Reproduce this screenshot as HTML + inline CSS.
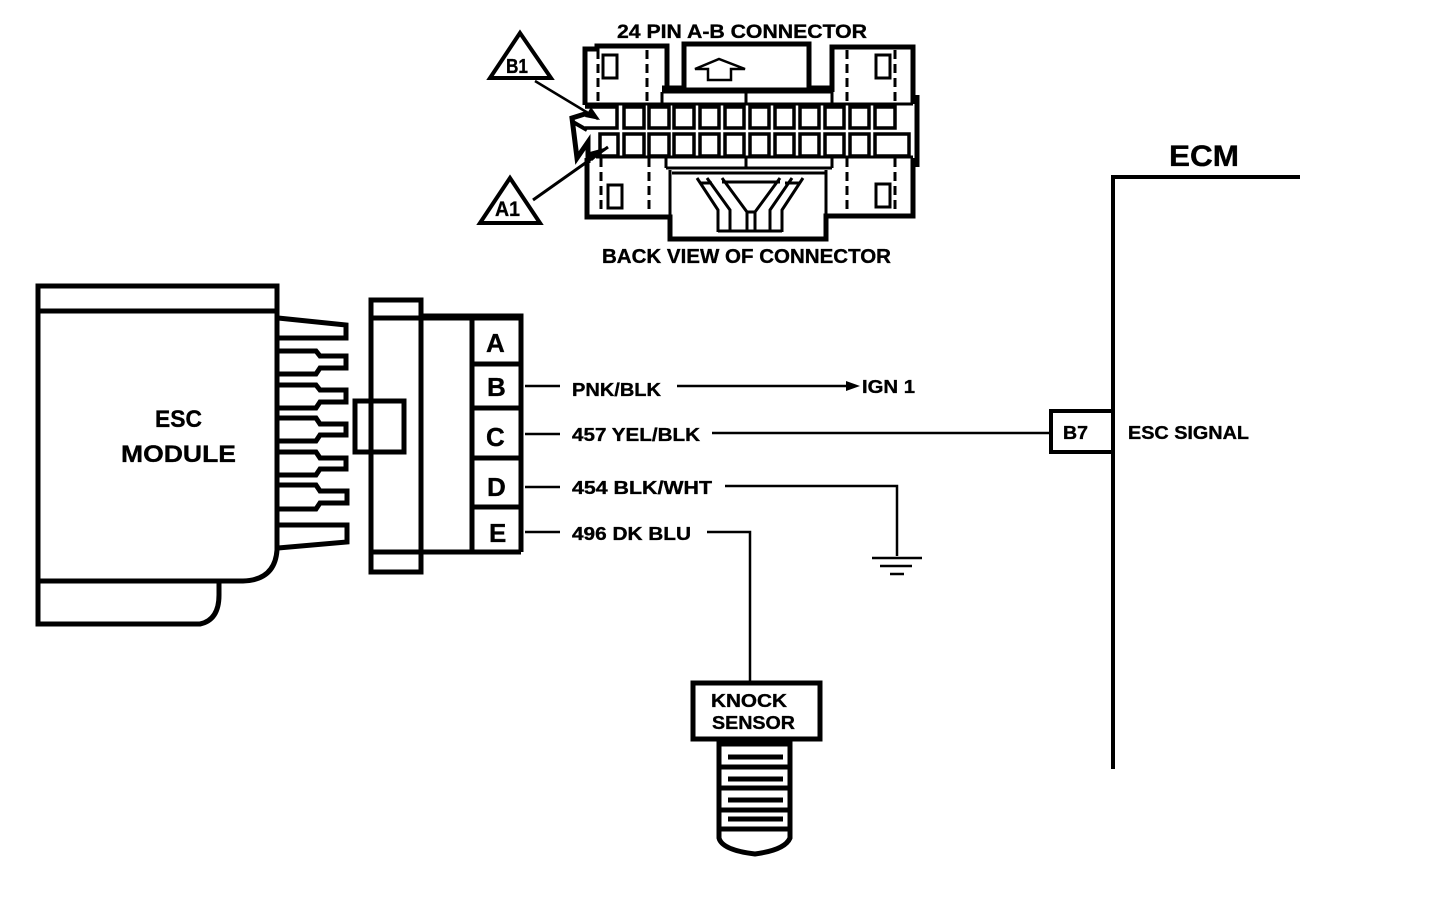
<!DOCTYPE html>
<html><head><meta charset="utf-8"><style>
html,body{margin:0;padding:0;background:#fff;width:1440px;height:900px;overflow:hidden}
svg{display:block}
text{font-family:"Liberation Sans",sans-serif;font-weight:700;fill:#000;stroke:#000;stroke-width:.35}
</style></head><body>
<svg width="1440" height="900" viewBox="0 0 1440 900" xmlns="http://www.w3.org/2000/svg">
<g fill="none" stroke="#000" stroke-width="4">
<!-- ESC module -->
<path d="M38 286H277V550Q275 580 243 581H38Z" stroke-width="5"/>
<path d="M38 311H277" stroke-width="5"/>
<path d="M38 581V624H200Q219 620 219 595V581" stroke-width="5"/>
<!-- pins -->
<path d="M278 318L346 325V338H278" stroke-width="5"/>
<path d="M278 351H316L320 356H346V368H320L316 374H278" stroke-width="5"/>
<path d="M278 385H316L320 390H346V402H320L316 408H278" stroke-width="5"/>
<path d="M278 418H316L320 424H346V435H320L316 441H278" stroke-width="5"/>
<path d="M278 452H316L320 458H346V469H320L316 475H278" stroke-width="5"/>
<path d="M278 485H316L320 491H347V503H320L316 509H278" stroke-width="5"/>
<path d="M278 525H347V542L278 548" stroke-width="5"/>
<!-- mating connector -->
<rect x="371" y="300" width="50" height="272" stroke-width="5"/>
<path d="M371 318H521M371 552H521" stroke-width="5"/>
<path d="M421 316H521V552" stroke-width="5"/>
<path d="M472 316V552" stroke-width="5"/>
<path d="M472 364H521M472 408H521M472 458H521M472 507H521" stroke-width="5"/>
<rect x="355" y="401" width="49" height="51" stroke-width="5"/>
<!-- wires -->
<g stroke-width="2.5">
<path d="M525 386H560M677 386H850"/>
<path d="M525 434H560M712 433H1051"/>
<path d="M525 487H560M725 486H897V556"/>
<path d="M525 532H560M707 532H750V682"/>
<path d="M872 558H922M880 566H912M890 574H904"/>
</g>
<path d="M846 381L860 386L846 391Z" fill="#000" stroke="none"/>
<!-- ECM -->
<path d="M1300 177H1113V769" stroke-width="4"/>
<path d="M1113 411H1051V452H1113" stroke-width="4"/>
<!-- knock sensor -->
<rect x="693" y="683" width="127" height="56" stroke-width="5"/>
<path d="M719 740V838Q722 850 755 854Q785 850 790 838V740" stroke-width="5"/>
<path d="M719 744H790" stroke-width="5"/>
<path d="M719 767H790M719 788H790M719 810H790M719 829H790" stroke-width="5"/>
<path d="M728 757H783M728 779H783M728 800H783M728 819H783" stroke-width="5"/>
<!-- 24 pin connector -->
<g stroke-width="4">
<path d="M585 105V49H597V46H667V92" stroke-width="5"/>
<path d="M662 88H684M684 90V44H809V90M684 90H809" stroke-width="5"/>
<path d="M809 88H832M832 92V47H913V104" stroke-width="5"/>
<path d="M917 95V167" stroke-width="5"/>
<path d="M585 104H913M596 157H913" stroke-width="3"/>
<path d="M662 92H832V104M662 92V104M746 92V104" stroke-width="3"/>
<path d="M666 168H832M746 157V168M666 157V168M832 157V168" stroke-width="3"/>
<path d="M587 158V217H670V239H826V216H913V158" stroke-width="5"/>
<path d="M670 170V217M826 170V216" stroke-width="3"/>
<path d="M672 173H825" stroke-width="3"/>
</g>
<g stroke-width="3.5">
<path d="M585 107H617V128H585"/>
<rect x="624" y="107" width="20" height="21"/>
<rect x="649" y="107" width="20" height="21"/>
<rect x="674" y="107" width="20" height="21"/>
<rect x="700" y="107" width="19" height="21"/>
<rect x="725" y="107" width="19" height="21"/>
<rect x="750" y="107" width="19" height="21"/>
<rect x="775" y="107" width="19" height="21"/>
<rect x="800" y="107" width="19" height="21"/>
<rect x="825" y="107" width="19" height="21"/>
<rect x="850" y="107" width="19" height="21"/>
<rect x="875" y="107" width="20" height="21"/>
<rect x="600" y="134" width="18" height="22"/>
<rect x="624" y="134" width="20" height="22"/>
<rect x="649" y="134" width="20" height="22"/>
<rect x="674" y="134" width="20" height="22"/>
<rect x="700" y="134" width="19" height="22"/>
<rect x="725" y="134" width="19" height="22"/>
<rect x="750" y="134" width="19" height="22"/>
<rect x="775" y="134" width="19" height="22"/>
<rect x="800" y="134" width="19" height="22"/>
<rect x="825" y="134" width="19" height="22"/>
<rect x="850" y="134" width="19" height="22"/>
<rect x="875" y="134" width="34" height="22"/>
</g>
<g stroke-width="3">
<rect x="603" y="55" width="14" height="23"/>
<rect x="876" y="55" width="14" height="23"/>
<rect x="608" y="185" width="14" height="23"/>
<rect x="876" y="184" width="14" height="23"/>
</g>
<g stroke-width="3" stroke-dasharray="9 5">
<path d="M598 50V104M647 50V104M847 50V104M895 50V104"/>
<path d="M601 158V214M649 158V214M847 158V214M895 158V214"/>
</g>
<path d="M695 69L719 59L745 69H731V80H708V69Z" stroke-width="2.5"/>
<!-- Y harness -->
<path d="M697 178L718 210V232M707 178L730 210V232M722 178L747 212V232M780 178L755 212V232M792 178L770 210V232M803 178L782 210V232" stroke-width="3"/>
<path d="M700 183H712M722 182H780M785 183H800M718 231H782M747 212H755" stroke-width="3"/>
<!-- zigzag -->
<path d="M588 113L572 118L577 158L588 142V163" stroke-width="5"/>
<path d="M573 122L587 130" stroke-width="4"/>
<!-- triangles -->
<path d="M520 33L551 78H490Z" stroke-width="4"/>
<path d="M510 178L540 223H480Z" stroke-width="4"/>
<path d="M535 81L598 119" stroke-width="2.5"/>
<path d="M533 200L608 147" stroke-width="3"/>
</g>
<path d="M600 120L585 117L591 107Z" fill="#000"/>
<path d="M608 147L592 161L586 153Z" fill="#000"/>
<text x="617" y="38" font-size="19" textLength="250" lengthAdjust="spacingAndGlyphs">24 PIN A-B  CONNECTOR</text>
<text x="602" y="263" font-size="20" textLength="289" lengthAdjust="spacingAndGlyphs">BACK VIEW OF CONNECTOR</text>
<text x="506" y="73" font-size="20" textLength="22" lengthAdjust="spacingAndGlyphs">B1</text>
<text x="495" y="216" font-size="21" textLength="25" lengthAdjust="spacingAndGlyphs">A1</text>
<text x="155" y="427" font-size="24" textLength="47" lengthAdjust="spacingAndGlyphs">ESC</text>
<text x="121" y="462" font-size="24" textLength="115" lengthAdjust="spacingAndGlyphs">MODULE</text>
<text x="486" y="352" font-size="26">A</text>
<text x="487" y="396" font-size="26">B</text>
<text x="486" y="446" font-size="26">C</text>
<text x="487" y="496" font-size="26">D</text>
<text x="489" y="542" font-size="26">E</text>
<text x="572" y="396" font-size="18" textLength="89" lengthAdjust="spacingAndGlyphs">PNK/BLK</text>
<text x="862" y="393" font-size="18" textLength="53" lengthAdjust="spacingAndGlyphs">IGN 1</text>
<text x="572" y="441" font-size="18" textLength="128" lengthAdjust="spacingAndGlyphs">457 YEL/BLK</text>
<text x="572" y="494" font-size="18" textLength="140" lengthAdjust="spacingAndGlyphs">454 BLK/WHT</text>
<text x="572" y="540" font-size="18" textLength="119" lengthAdjust="spacingAndGlyphs">496 DK BLU</text>
<text x="1063" y="439" font-size="18" textLength="25" lengthAdjust="spacingAndGlyphs">B7</text>
<text x="1128" y="439" font-size="18" textLength="121" lengthAdjust="spacingAndGlyphs">ESC SIGNAL</text>
<text x="1169" y="166" font-size="30" textLength="70" lengthAdjust="spacingAndGlyphs">ECM</text>
<text x="711" y="707" font-size="18" textLength="76" lengthAdjust="spacingAndGlyphs">KNOCK</text>
<text x="712" y="729" font-size="18" textLength="83" lengthAdjust="spacingAndGlyphs">SENSOR</text>
</svg>
</body></html>
